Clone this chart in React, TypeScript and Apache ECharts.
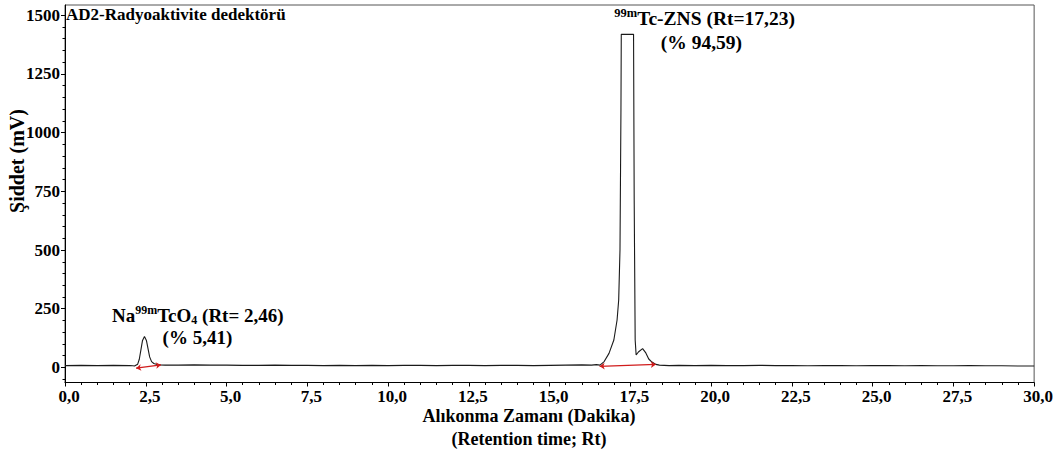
import React, { useEffect, useRef } from "react";
import * as echarts from "echarts";

const FONT = '"Liberation Serif", "Times New Roman", serif';

// Chromatogram trace: [retention time (min), intensity (mV)]
const chromatogram: [number, number][] = [
  [0, 8], [0.5, 9], [1, 8], [1.5, 9], [2, 8], [2.1, 7],
  [2.15, 6], [2.25, 14], [2.3, 35], [2.35, 75], [2.4, 115], [2.46, 132],
  [2.52, 115], [2.57, 80], [2.62, 45], [2.68, 25], [2.75, 17], [2.85, 13], [2.95, 11],
  [3.1, 10], [3.5, 10], [4, 11], [4.5, 10], [5, 10], [5.5, 9], [6, 9], [6.5, 10],
  [7, 9], [7.5, 9], [8, 8], [8.5, 9], [9, 8], [9.5, 9], [10, 8], [10.5, 9], [11, 9],
  [11.5, 8], [12, 9], [12.5, 9], [13, 8], [13.5, 9], [14, 9], [14.5, 8], [15, 9],
  [15.5, 10], [16, 11], [16.3, 10], [16.45, 12],
  [16.56, 10], [16.69, 25], [16.84, 60], [16.99, 117], [17.09, 202], [17.14, 287],
  [17.18, 500], [17.21, 1100], [17.22, 1418], [17.6, 1418], [17.62, 712], [17.65, 117],
  [17.68, 53], [17.75, 66], [17.88, 80], [17.98, 62], [18.07, 36], [18.17, 23], [18.29, 13],
  [18.4, 10], [18.7, 8], [19, 9], [19.5, 8], [20, 9], [20.5, 8], [21, 8], [21.5, 9],
  [22, 8], [22.5, 8], [23, 7], [23.5, 8], [24, 8], [24.5, 7], [25, 8], [25.5, 8],
  [26, 7], [26.5, 8], [27, 7], [27.5, 7], [28, 8], [28.5, 7], [29, 7], [29.5, 6], [30, 6],
];

// Integration baselines: [[t1, v1], [t2, v2]]
const baselineSegments: [[number, number], [number, number]][] = [
  [[2.2, -3], [2.97, 11]],
  [[16.55, 5], [18.29, 13]],
];

// Peak annotations (rich text) and their anchor [time, mV]
const peakLabels: { coord: [number, number]; text: string }[] = [
  { coord: [4.11, 222], text: "{b|Na}{s|99m}{b|TcO}{d|4}{b| (Rt= 2,46)}" },
  { coord: [4.1, 126], text: "{c|(% 5,41)}" },
  { coord: [19.8, 1487], text: "{S|99m}{B|Tc-ZNS (Rt=17,23)}" },
  { coord: [19.7, 1382], text: "{C|(% 94,59)}" },
];

const yMajorTicks = [0, 250, 500, 750, 1000, 1250, 1500];
const yMinorTicks = [
  -50, 50, 100, 150, 200, 300, 350, 400, 450, 550, 600, 650, 700, 800, 850, 900, 950,
  1050, 1100, 1150, 1200, 1300, 1350, 1400, 1450,
];

const xLabelFormat = (v: number) => v.toFixed(1).replace(".", ",");
const yLabelFormat = (v: number) => String(Math.round(v));

export default function App() {
  const ref = useRef<HTMLDivElement>(null);
  useEffect(() => {
    if (!ref.current) return;
    const chart = echarts.init(ref.current, undefined, { renderer: "svg" });
    const textBase = { fontFamily: FONT, fontWeight: "bold" as const, color: "#000" };
    chart.setOption({
      animation: false,
      backgroundColor: "#fff",
      grid: {
        left: 65, right: 5, top: 5, bottom: 80.5,
        show: true, borderColor: "#555", borderWidth: 1,
      },
      xAxis: {
        type: "value", min: 0, max: 30, interval: 2.5,
        axisLine: { onZero: false, lineStyle: { color: "#000", width: 1 } },
        axisTick: { show: true, length: 4, lineStyle: { color: "#000" } },
        minorTick: { show: true, splitNumber: 5, length: 2.5, lineStyle: { color: "#000" } },
        axisLabel: {
          ...textBase, fontSize: 17, margin: 5, padding: [0, 0, 0, 8],
          formatter: xLabelFormat, showMinLabel: true, showMaxLabel: true,
        },
        splitLine: { show: false },
      },
      yAxis: [
        {
          type: "value", min: -64, max: 1543,
          axisLine: { show: true, onZero: false, lineStyle: { color: "#000", width: 1 } },
          axisTick: { show: true, length: 4, customValues: yMajorTicks, lineStyle: { color: "#000" } },
          axisLabel: { ...textBase, fontSize: 17, margin: 5, customValues: yMajorTicks, formatter: yLabelFormat },
          splitLine: { show: false },
        },
        {
          type: "value", min: -64, max: 1543, position: "left",
          axisLine: { show: false, onZero: false },
          axisTick: { show: true, length: 2.5, customValues: yMinorTicks, lineStyle: { color: "#000" } },
          axisLabel: { show: false },
          splitLine: { show: false },
        },
      ],
      series: [
        {
          type: "line",
          data: chromatogram,
          yAxisIndex: 0,
          showSymbol: false,
          silent: true,
          lineStyle: { color: "#1a1a1a", width: 1.1 },
          markPoint: {
            symbol: "circle",
            symbolSize: 0,
            silent: true,
            itemStyle: { color: "transparent" },
            label: {
              show: true,
              position: "inside",
              rich: {
                b: { ...textBase, fontSize: 19, lineHeight: 22 },
                s: { ...textBase, fontSize: 12, lineHeight: 10, verticalAlign: "top" },
                d: { ...textBase, fontSize: 12, lineHeight: 10, verticalAlign: "bottom" },
                c: { ...textBase, fontSize: 19, lineHeight: 19 },
                B: { ...textBase, fontSize: 19.5, lineHeight: 23 },
                S: { ...textBase, fontSize: 12.5, lineHeight: 11, verticalAlign: "top" },
                C: { ...textBase, fontSize: 19.5, lineHeight: 19.5 },
              },
            },
            data: peakLabels.map((p) => ({
              coord: p.coord,
              label: { formatter: p.text },
            })),
          },
          markLine: {
            silent: true,
            symbol: ["arrow", "arrow"],
            symbolSize: 5,
            label: { show: false },
            lineStyle: { color: "#d01c1c", width: 1.2, type: "solid" },
            data: baselineSegments.map(([a, b]) => [{ coord: a }, { coord: b }]),
          },
        },
      ],
      graphic: [
        {
          type: "text", left: 66, top: 6,
          style: { text: "AD2-Radyoaktivite dedektörü", font: `bold 17px ${FONT}`, fill: "#000" },
        },
        {
          type: "text", x: 529, y: 416,
          style: { text: "Alıkonma Zamanı (Dakika)", font: `bold 18px ${FONT}`, fill: "#000", align: "center", verticalAlign: "middle" },
        },
        {
          type: "text", x: 529, y: 439,
          style: { text: "(Retention time; Rt)", font: `bold 18px ${FONT}`, fill: "#000", align: "center", verticalAlign: "middle" },
        },
        {
          type: "text", x: 17, y: 161, rotation: Math.PI / 2,
          style: { text: "Şiddet (mV)", font: `bold 20px ${FONT}`, fill: "#000", align: "center", verticalAlign: "middle" },
        },
      ],
    });
    return () => chart.dispose();
  }, []);
  return (
    <div
      ref={ref}
      style={{ position: "absolute", left: 0, top: 0, width: 1056, height: 463 }}
    />
  );
}
